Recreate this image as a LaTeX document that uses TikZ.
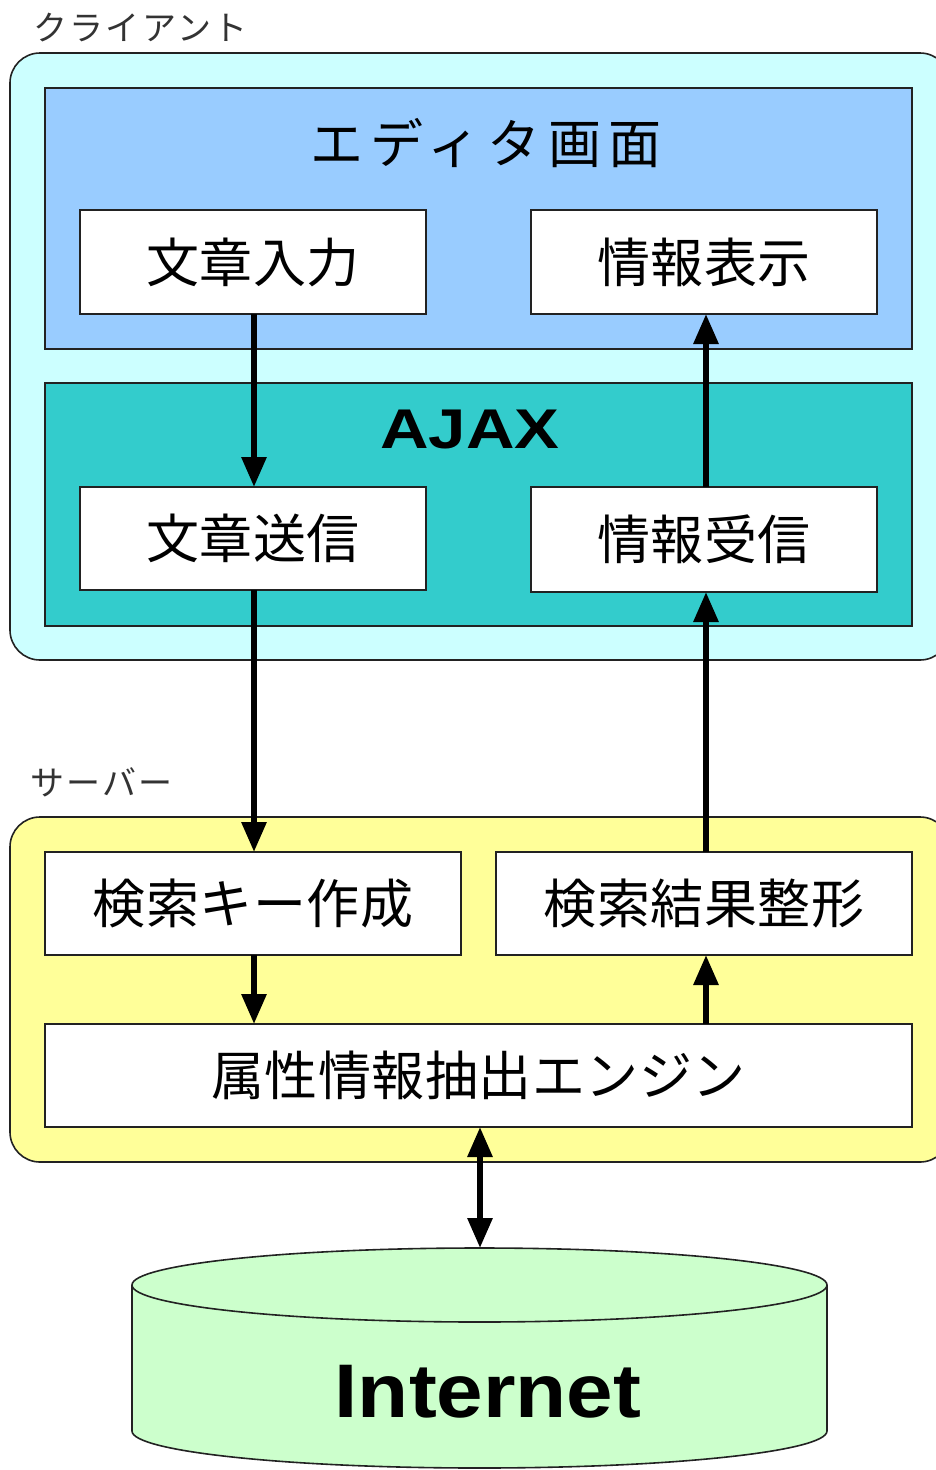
\documentclass[tikz,border=0pt]{standalone}
\usepackage{fontspec}
\newfontfamily\jpbox{Noto Sans CJK JP}[LetterSpace=1]
\newfontfamily\jptitle{Noto Sans CJK JP}[LetterSpace=14]
\newfontfamily\jplbl{Noto Sans CJK JP}[LetterSpace=7]
\newfontfamily\lsans{Liberation Sans}
\usetikzlibrary{arrows.meta}
\definecolor{clientbg}{HTML}{CCFFFF}
\definecolor{editbg}{HTML}{99CCFF}
\definecolor{ajaxbg}{HTML}{33CCCC}
\definecolor{serverbg}{HTML}{FFFF99}
\definecolor{netbg}{HTML}{CCFFCC}
\definecolor{edge}{HTML}{222222}
\tikzset{
  every node/.style={outer sep=0pt, inner sep=0pt},
  container/.style={draw=edge, line width=1.6pt, rounded corners=30pt, anchor=north west},
  panel/.style={draw=edge, line width=1.6pt, anchor=north west},
  wbox/.style={draw=edge, line width=1.6pt, fill=white, anchor=north west, font=\jpbox\fontsize{53}{53}\selectfont},
  grouplabel/.style={anchor=west, text=black!80, font=\jplbl\fontsize{34}{34}\selectfont},
  flow/.style={line width=6pt, -{Triangle[length=30pt,width=24pt]}},
  flow2/.style={line width=6pt, {Triangle[length=30pt,width=24pt]}-{Triangle[length=30pt,width=24pt]}},
}
\begin{document}
\begin{tikzpicture}[x=1pt,y=-1pt]
\useasboundingbox (0,0) rectangle (936,1470);
\clip (0,0) rectangle (936,1470);
% client
\node[grouplabel] (clientlbl) at (33,28) {クライアント};
\node[container, fill=clientbg, minimum width=940pt, minimum height=607pt] (client) at (10,53) {};
\node[panel, fill=editbg, minimum width=867pt, minimum height=261pt] (editor) at (45,88) {};
\node[font=\jptitle\fontsize{53}{53}\selectfont] (editortitle) at (486,143) {エディタ画面};
\node[wbox, minimum width=346pt, minimum height=104pt] (input) at (80,210) {文章入力};
\node[wbox, minimum width=346pt, minimum height=104pt] (show) at (531,210) {情報表示};
\node[panel, fill=ajaxbg, minimum width=867pt, minimum height=243pt] (ajax) at (45,383) {};
\node[font=\lsans\bfseries\fontsize{56}{56}\selectfont, xscale=1.2] (ajaxtitle) at (470,430) {AJAX};
\node[wbox, minimum width=346pt, minimum height=103pt] (send) at (80,487) {文章送信};
\node[wbox, minimum width=346pt, minimum height=105pt] (recv) at (531,487) {情報受信};
% server
\node[grouplabel] (serverlbl) at (30,782) {サーバー};
\node[container, fill=serverbg, minimum width=940pt, minimum height=345pt] (server) at (10,817) {};
\node[wbox, minimum width=416pt, minimum height=103pt] (key) at (45,852) {検索キー作成};
\node[wbox, minimum width=416pt, minimum height=103pt] (fmt) at (496,852) {検索結果整形};
\node[wbox, minimum width=867pt, minimum height=103pt] (engine) at (45,1024) {属性情報抽出エンジン};
% internet cylinder
\fill[netbg] (132,1285) -- (132,1431) arc[start angle=180, end angle=360, x radius=347.5pt, y radius=37pt] -- (827,1285) arc[start angle=0, end angle=180, x radius=347.5pt, y radius=37pt] -- cycle;
\draw[edge, line width=1.6pt] (132,1285) -- (132,1431) arc[start angle=180, end angle=360, x radius=347.5pt, y radius=37pt] -- (827,1285);
\draw[edge, line width=1.6pt, fill=netbg] (479.5,1285) ellipse[x radius=347.5pt, y radius=37pt];
\coordinate (nettop) at (479.5,1248);
\node[font=\lsans\bfseries\fontsize{76}{76}\selectfont, xscale=1.1] (net) at (488,1392) {Internet};
% connectors
\draw[flow] (input.south -| 254,0) -- (send.north -| 254,0);
\draw[flow] (send.south -| 254,0) -- (key.north -| 254,0);
\draw[flow] (key.south -| 254,0) -- (engine.north -| 254,0);
\draw[flow] (engine.north -| 706,0) -- (fmt.south -| 706,0);
\draw[flow] (fmt.north -| 706,0) -- (recv.south -| 706,0);
\draw[flow] (recv.north -| 706,0) -- (show.south -| 706,0);
\draw[flow2] (engine.south -| 480,0) -- (nettop -| 480,0);
\end{tikzpicture}
\end{document}
